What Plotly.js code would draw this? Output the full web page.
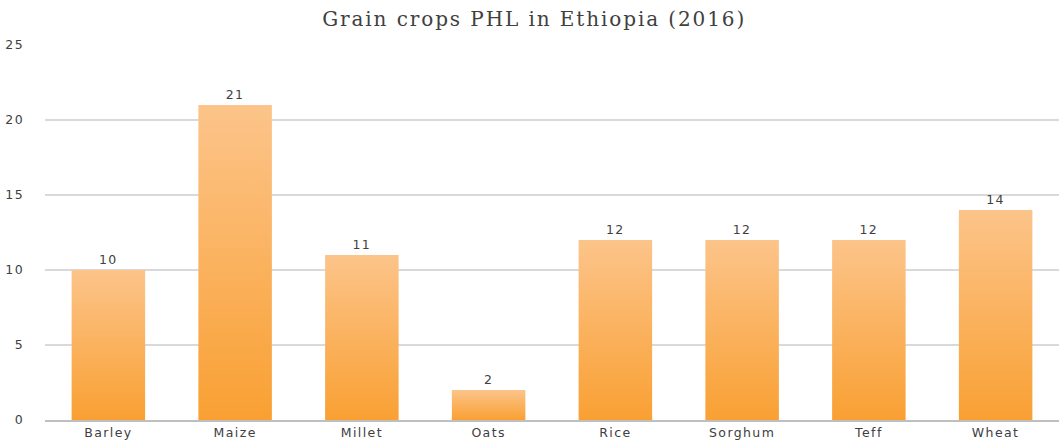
<!DOCTYPE html>
<html>
<head>
<meta charset="utf-8">
<script src="https://cdn.plot.ly/plotly-3.0.1.min.js"></script>
<style>
html,body{margin:0;padding:0;background:#fff;}
#chart{width:1062px;height:448px;}
#chart .xtick text, #chart .ytick text, #chart .bartext {letter-spacing:1.4px;}
#chart .gtitle {letter-spacing:1.9px;}
</style>
</head>
<body>
<div id="chart"></div>
<script>
const categories = ["Barley", "Maize", "Millet", "Oats", "Rice", "Sorghum", "Teff", "Wheat"];
const values = [10, 21, 11, 2, 12, 12, 12, 14];
const yTicks = [0, 5, 10, 15, 20, 25];

const labelFont = {family: "DejaVu Sans, sans-serif", size: 12.5, color: "#404040"};

const trace = {
  type: "bar",
  x: categories,
  y: values,
  text: values.map(String),
  textposition: "outside",
  cliponaxis: false,
  textfont: labelFont,
  marker: {color: "#FAB05A", line: {width: 0}},
  hoverinfo: "x+y"
};

const layout = {
  width: 1062, height: 448,
  margin: {l: 45, r: 3, t: 45, b: 28},
  paper_bgcolor: "#fff", plot_bgcolor: "#fff",
  title: {text: "Grain crops PHL in Ethiopia (2016)", x: 0.503, xanchor: "center", y: 0.958, yanchor: "middle",
          font: {family: "DejaVu Serif, serif", size: 20, color: "#404040"}},
  bargap: 0.42,
  showlegend: false,
  xaxis: {
    tickfont: labelFont,
    showgrid: false, showline: true, linecolor: "#bfbfbf", linewidth: 1.5, ticks: "", fixedrange: true
  },
  yaxis: {
    range: [0, 25], tickvals: yTicks, ticktext: yTicks.map(String),
    tickfont: labelFont,
    showgrid: true, gridcolor: "#d9d9d9", gridwidth: 1.5, zeroline: false,
    showline: false, ticks: "", ticklabelstandoff: 20, fixedrange: true
  }
};

Plotly.newPlot("chart", [trace], layout, {displayModeBar: false, staticPlot: true}).then(function(gd){
  const svg = gd.querySelector(".main-svg");
  const ns = "http://www.w3.org/2000/svg";
  let defs = svg.querySelector("defs");
  if (!defs) { defs = document.createElementNS(ns, "defs"); svg.insertBefore(defs, svg.firstChild); }
  const g = document.createElementNS(ns, "linearGradient");
  g.setAttribute("id", "barGrad");
  g.setAttribute("x1", "0"); g.setAttribute("y1", "0"); g.setAttribute("x2", "0"); g.setAttribute("y2", "1");
  [["0", "#FCC48A"], ["1", "#F9A033"]].forEach(function(s){
    const st = document.createElementNS(ns, "stop");
    st.setAttribute("offset", s[0]); st.setAttribute("stop-color", s[1]);
    g.appendChild(st);
  });
  defs.appendChild(g);
  gd.querySelectorAll(".bars .point path").forEach(function(p){ p.style.fill = "url(#barGrad)"; });
});
</script>
</body>
</html>
